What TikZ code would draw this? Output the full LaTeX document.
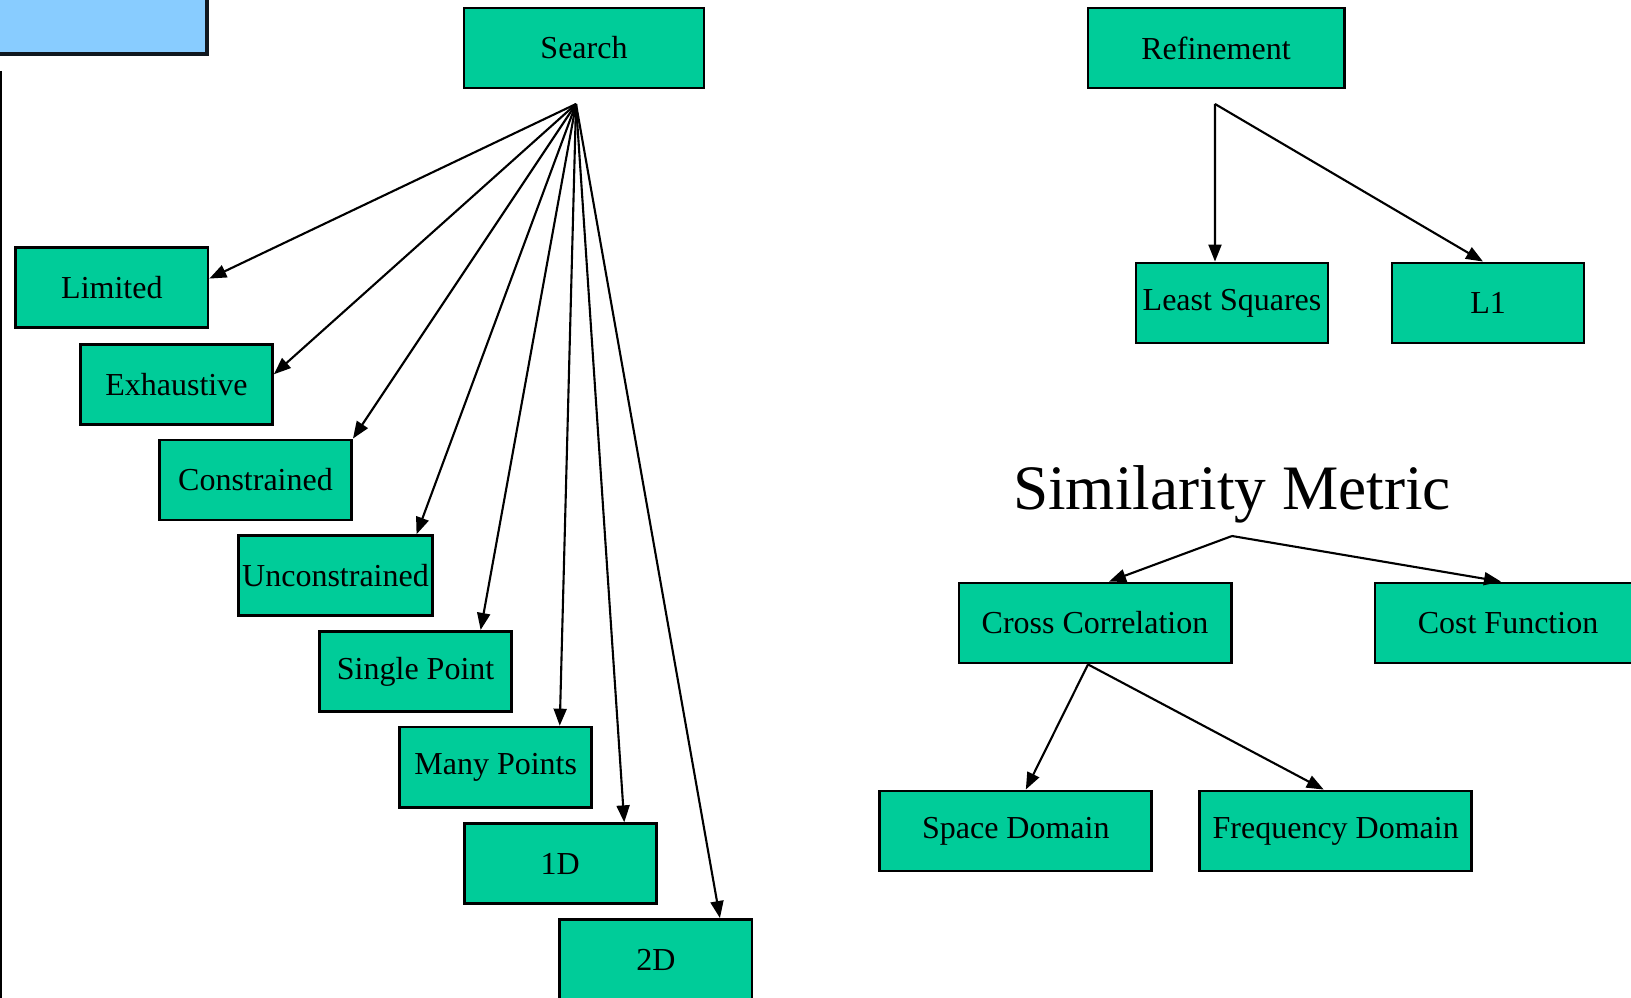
\documentclass[tikz,border=0pt]{standalone}
\usepackage{fontspec}
\setmainfont{Liberation Serif}
\usetikzlibrary{arrows.meta, positioning, calc}
\definecolor{smGreen}{HTML}{00CC99}
\definecolor{smBlue}{HTML}{88CCFF}
\definecolor{smDark}{HTML}{101820}

\begin{document}
\begin{tikzpicture}[
        x=0.01cm, y=-0.01cm,
        box/.style={rectangle, draw=black, fill=smGreen, line width=0.8pt, minimum height=0.8cm, minimum width=1.92cm, inner xsep=1pt, align=center, font=\fontsize{9.1}{11}\selectfont},
        widebox/.style={box, minimum width=2.72cm},
        titlebox/.style={box, minimum width=2.56cm},
        headbox/.style={rectangle, draw=smDark, fill=smBlue, line width=1.2pt},
        arr/.style={-{Triangle[length=0.17cm, width=0.13cm]}, line width=0.6pt},
    ]
        \clip (0,0) rectangle (1631,998);

        % Header and margin rule
        \node[headbox, minimum width=2.22cm, minimum height=0.74cm] (head) at (96,17) {};
        \draw[line width=0.7pt] (1,71) -- (1,998);

        % Search
        \node[box, minimum width=2.4cm] (search) at (584,48) {Search};
        \node[box] (lim)    at (111.9,287.6) {Limited};
        \node[box] (exh)    at (176.4,384.3) {Exhaustive};
        \node[box] (con)    at (255.5,480)   {Constrained};
        \node[box] (uncon)  at (335.5,575.7) {Unconstrained};
        \node[box] (single) at (415.6,671.4) {Single Point};
        \node[box] (many)   at (495.7,767.1) {Many Points};
        \node[box] (oned)   at (560.2,863.8) {1D};
        \node[box] (twod)   at (655.9,959.5) {2D};
        \coordinate (fan) at (576,104);

        % Refinement
        \node[titlebox] (refine) at (1216,48) {Refinement};
        \node[box] (lsq) at (1232,303) {Least Squares};
        \node[box] (lone) at (1488,303) {L1};
        \coordinate (refsplit) at (1215,104);

        % Similarity metric
        \node[anchor=base, font=\fontsize{18}{22}\selectfont] (simtitle) at (1232,510) {Similarity Metric};
        \coordinate (simsplit) at (1232,536);
        \node[widebox] (cc) at (1095,623) {Cross Correlation};
        \node[box, minimum width=2.66cm] (cost) at (1508,623) {Cost Function};
        \node[widebox] (space) at (1015.8,831) {Space Domain};
        \node[widebox] (freq) at (1335.7,831) {Frequency Domain};

        % Arrows: search -> methods
        \draw[arr] (fan) -- ([yshift=0.09cm]lim.east);
        \draw[arr] (fan) -- ([yshift=0.1cm]exh.east);
        \draw[arr] (fan) -- (con.north east);
        \draw[arr] (fan) -- ([xshift=0.81cm]uncon.north);
        \draw[arr] (fan) -- ([xshift=0.65cm]single.north);
        \draw[arr] (fan) -- ([xshift=0.64cm]many.north);
        \draw[arr] (fan) -- ([xshift=0.64cm]oned.north);
        \draw[arr] (fan) -- ([xshift=0.64cm]twod.north);

        % Arrows: refinement
        \draw[arr] (refsplit) -- ([xshift=-0.17cm]lsq.north);
        \draw[arr] (refsplit) -- ([xshift=-0.05cm]lone.north);

        % Arrows: similarity metric
        \draw[arr] (simsplit) -- ([xshift=0.14cm]cc.north);
        \draw[arr] (simsplit) -- ([xshift=-0.07cm]cost.north);
        \draw[arr] ([xshift=-0.07cm]cc.south) -- ([xshift=0.1cm]space.north);
        \draw[arr] ([xshift=-0.07cm]cc.south) -- ([xshift=-0.12cm]freq.north);

    \end{tikzpicture}
\end{document}
